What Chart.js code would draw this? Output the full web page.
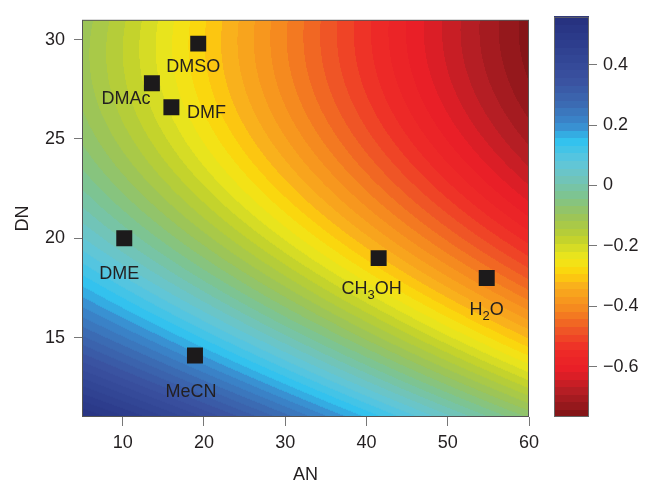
<!DOCTYPE html>
<html>
<head>
<meta charset="utf-8">
<script src="https://cdn.jsdelivr.net/npm/chart.js@4.4.1/dist/chart.umd.min.js"></script>
<style>
  html, body { margin: 0; padding: 0; background: #fff; }
  #wrap { position: relative; width: 647px; height: 482px; }
  #main { position: absolute; left: 0; top: 0; }
  #cbar { position: absolute; left: 540px; top: 0; }
</style>
</head>
<body>
<div id="wrap">
  <canvas id="main" width="647" height="482"></canvas>
  <canvas id="cbar" width="107" height="482"></canvas>
</div>
<script>
// solvents (acceptor number AN, donor number DN)
const solvents = ['DMSO', 'DMAc', 'DMF', 'DME', 'MeCN', 'CH_3OH', 'H_2O'];
const solventAN = [19.3, 13.6, 16.0, 10.2, 18.9, 41.5, 54.8];
const solventDN = [29.8, 27.8, 26.6, 20.0, 14.1, 19.0, 18.0];

const xTicks = [10, 20, 30, 40, 50, 60];
const yTicks = [15, 20, 25, 30];
const cbTicks = [-0.6, -0.4, -0.2, 0, 0.2, 0.4];

// background surface on a coarse grid
const gridAN = [5, 10, 15, 20, 25, 30, 35, 40, 45, 50, 55, 60];
const gridDN = [11, 15, 19, 23, 27, 31];
const fieldDN11 = [0.55, 0.48, 0.43, 0.38, 0.33, 0.275, 0.21, 0.155, 0.085, 0.04, -0.02, -0.07];
const fieldDN15 = [0.30, 0.24, 0.18, 0.13, 0.075, 0.025, -0.035, -0.09, -0.145, -0.20, -0.255, -0.32];
const fieldDN19 = [0.07, 0.035, -0.02, -0.08, -0.14, -0.19, -0.235, -0.29, -0.345, -0.405, -0.465, -0.53];
const fieldDN23 = [-0.01, -0.07, -0.135, -0.20, -0.255, -0.31, -0.375, -0.44, -0.50, -0.56, -0.60, -0.65];
const fieldDN27 = [-0.10, -0.15, -0.21, -0.27, -0.33, -0.40, -0.46, -0.525, -0.59, -0.63, -0.67, -0.71];
const fieldDN31 = [-0.11, -0.16, -0.23, -0.29, -0.355, -0.405, -0.465, -0.53, -0.595, -0.65, -0.70, -0.765];
const fieldRows = [fieldDN11, fieldDN15, fieldDN19, fieldDN23, fieldDN27, fieldDN31];

const cbMin = -0.767, cbMax = 0.559;
const levelStep = 0.025;

// colour map
const cmapValues = [0.56, 0.46, 0.35, 0.27, 0.20, 0.15, 0.08, 0.03, -0.04, -0.10, -0.17, -0.24, -0.29, -0.33, -0.41, -0.48, -0.54, -0.61, -0.68, -0.77];
const cmapColors = ['#26307e', '#2e3f8f', '#3a52a0', '#3b6bb3', '#3a8ccf', '#30c2ef', '#5ec6dc', '#6fc4bf', '#80c48a', '#9bc45a',
    '#bdd02f', '#efe81a', '#fdd20b', '#f9b11c', '#f5871f', '#ef5526', '#ee2c27', '#e91e27', '#b51e24', '#7b1315'];

const labelOffsets = {
    'DMSO': [-5, 23], 'DMAc': [-26, 16], 'DMF': [35, 6], 'DME': [-5, 36],
    'MeCN': [-4, 37], 'CH_3OH': [-7, 31], 'H_2O': [0, 32]
};

const FONT = "'Liberation Sans', Arial, sans-serif";
const FSIZE = 18;
const TEXT = '#231f20';

const cmapRgb = cmapColors.map(h => [parseInt(h.slice(1, 3), 16), parseInt(h.slice(3, 5), 16), parseInt(h.slice(5, 7), 16)]);

function colorAt(v) {
    const n = cmapValues.length;
    if (v >= cmapValues[0]) return cmapRgb[0];
    if (v <= cmapValues[n - 1]) return cmapRgb[n - 1];
    for (let i = 0; i < n - 1; i++) {
        if (v <= cmapValues[i] && v >= cmapValues[i + 1]) {
            const t = (cmapValues[i] - v) / (cmapValues[i] - cmapValues[i + 1]);
            const a = cmapRgb[i], b = cmapRgb[i + 1];
            return [a[0] + (b[0] - a[0]) * t, a[1] + (b[1] - a[1]) * t, a[2] + (b[2] - a[2]) * t];
        }
    }
    return cmapRgb[n - 1];
}

function bandColor(v) {
    const k = Math.floor((v - cbMin) / levelStep);
    return colorAt(cbMin + (k + 0.5) * levelStep);
}

// smooth cubic surface through the grid readings (least squares), for drawing only
function terms(an, dn) {
    const u = (an - 32.5) / 27.5, v = (dn - 21) / 10;
    return [1, u, v, u * u, u * v, v * v, u * u * u, u * u * v, u * v * v, v * v * v];
}

function fitSurface() {
    const m = 10;
    const A = Array.from({ length: m }, () => new Array(m + 1).fill(0));
    gridDN.forEach((dn, r) => {
        gridAN.forEach((an, c) => {
            const t = terms(an, dn), z = fieldRows[r][c];
            for (let i = 0; i < m; i++) {
                for (let j = 0; j < m; j++) A[i][j] += t[i] * t[j];
                A[i][m] += t[i] * z;
            }
        });
    });
    for (let i = 0; i < m; i++) {
        let p = i;
        for (let k = i + 1; k < m; k++) if (Math.abs(A[k][i]) > Math.abs(A[p][i])) p = k;
        [A[i], A[p]] = [A[p], A[i]];
        for (let k = 0; k < m; k++) {
            if (k === i) continue;
            const f = A[k][i] / A[i][i];
            for (let j = i; j <= m; j++) A[k][j] -= f * A[i][j];
        }
    }
    return A.map((row, i) => row[m] / row[i]);
}

const coef = fitSurface();
function fieldAt(an, dn) {
    const t = terms(an, dn);
    let s = 0;
    for (let i = 0; i < t.length; i++) s += coef[i] * t[i];
    return s;
}

// filled contour background, markers and their names
const fieldPlugin = {
    id: 'field',
    beforeDatasetsDraw(chart) {
        const { ctx, chartArea: a, scales: { x, y } } = chart;
        const w = Math.round(a.right - a.left), h = Math.round(a.bottom - a.top);
        const off = document.createElement('canvas');
        off.width = w; off.height = h;
        const octx = off.getContext('2d');
        const img = octx.createImageData(w, h);
        for (let j = 0; j < h; j++) {
            const dn = y.getValueForPixel(a.top + j + 0.5);
            for (let i = 0; i < w; i++) {
                const an = x.getValueForPixel(a.left + i + 0.5);
                const c = bandColor(fieldAt(an, dn));
                const p = (j * w + i) * 4;
                img.data[p] = c[0]; img.data[p + 1] = c[1]; img.data[p + 2] = c[2]; img.data[p + 3] = 255;
            }
        }
        octx.putImageData(img, 0, 0);
        ctx.drawImage(off, a.left, a.top);
    },
    afterDatasetsDraw(chart) {
        const { ctx, chartArea: a, scales: { x, y } } = chart;
        ctx.save();
        ctx.fillStyle = TEXT;
        ctx.textBaseline = 'middle';
        solvents.forEach((name, i) => {
            const px = x.getPixelForValue(solventAN[i]);
            const py = y.getPixelForValue(solventDN[i]);
            const [dx, dy] = labelOffsets[name];
            drawLabel(ctx, name, px + dx, py + dy);
        });
        ctx.strokeStyle = '#555';
        ctx.lineWidth = 1;
        ctx.strokeRect(a.left + 0.5, a.top + 0.5, a.right - a.left - 1, a.bottom - a.top - 1);
        ctx.restore();
    }
};

// text with one subscripted character after "_"
function drawLabel(ctx, text, cx, cy) {
    const parts = [];
    let k = 0;
    while (k < text.length) {
        if (text[k] === '_') { parts.push({ t: text[k + 1], sub: true }); k += 2; }
        else {
            let s = '';
            while (k < text.length && text[k] !== '_') s += text[k++];
            parts.push({ t: s, sub: false });
        }
    }
    const big = FSIZE + 'px ' + FONT, small = '13px ' + FONT;
    let total = 0;
    parts.forEach(p => { ctx.font = p.sub ? small : big; p.w = ctx.measureText(p.t).width; total += p.w; });
    let xx = cx - total / 2;
    ctx.textAlign = 'left';
    parts.forEach(p => {
        ctx.font = p.sub ? small : big;
        ctx.fillText(p.t, xx, p.sub ? cy + 6 : cy);
        xx += p.w;
    });
}

new Chart(document.getElementById('main'), {
    type: 'scatter',
    data: {
        datasets: [{
            data: solventAN.map((v, i) => ({ x: v, y: solventDN[i] })),
            pointStyle: 'rect',
            pointRadius: 11.3,
            pointHoverRadius: 11.3,
            backgroundColor: '#1c1a1b',
            borderWidth: 0
        }]
    },
    options: {
        responsive: false,
        animation: false,
        layout: { padding: { left: 0, top: 12, right: 118, bottom: 0 } },
        plugins: { legend: { display: false }, tooltip: { enabled: false } },
        scales: {
            x: {
                type: 'linear', min: 5, max: 60,
                afterBuildTicks: s => { s.ticks = xTicks.map(v => ({ value: v })); },
                afterFit: s => { s.height = 65; },
                grid: { drawOnChartArea: false, tickLength: 9, tickColor: '#777' },
                border: { display: false },
                ticks: { padding: 6, color: TEXT, font: { family: FONT, size: FSIZE }, maxRotation: 0 },
                title: { display: true, text: 'AN', color: TEXT, font: { family: FONT, size: FSIZE, lineHeight: 0.8 }, padding: 0 }
            },
            y: {
                type: 'linear', min: 11, max: 31,
                afterBuildTicks: s => { s.ticks = yTicks.map(v => ({ value: v })); },
                afterFit: s => { s.width = 82; },
                grid: { drawOnChartArea: false, tickLength: 8, tickColor: '#777' },
                border: { display: false },
                ticks: { padding: 9, color: TEXT, font: { family: FONT, size: FSIZE } },
                title: { display: true, text: 'DN', color: TEXT, font: { family: FONT, size: FSIZE, lineHeight: 0.8 }, padding: { top: 16, bottom: 0 } }
            }
        }
    },
    plugins: [fieldPlugin]
});

// colour bar
const cbarPlugin = {
    id: 'cbarFill',
    beforeDatasetsDraw(chart) {
        const { ctx, chartArea: a, scales: { y } } = chart;
        ctx.save();
        const nLevels = Math.ceil((cbMax - cbMin) / levelStep);
        for (let k = 0; k < nLevels; k++) {
            const lo = cbMin + k * levelStep, hi = Math.min(cbMax, lo + levelStep);
            const c = colorAt(lo + levelStep / 2);
            ctx.fillStyle = 'rgb(' + c.map(Math.round).join(',') + ')';
            const y0 = y.getPixelForValue(hi), y1 = y.getPixelForValue(lo);
            ctx.fillRect(a.left, Math.floor(y0), a.right - a.left, Math.ceil(y1) - Math.floor(y0));
        }
        ctx.strokeStyle = '#666';
        ctx.lineWidth = 1;
        ctx.strokeRect(a.left + 0.5, a.top + 0.5, a.right - a.left - 1, a.bottom - a.top - 1);
        ctx.restore();
    }
};

new Chart(document.getElementById('cbar'), {
    type: 'scatter',
    data: { datasets: [{ data: [] }] },
    options: {
        responsive: false,
        animation: false,
        layout: { padding: { left: 14, top: 12, right: 0, bottom: 65 } },
        plugins: { legend: { display: false }, tooltip: { enabled: false } },
        scales: {
            x: { display: false, min: 0, max: 1 },
            y: {
                position: 'right', min: cbMin, max: cbMax,
                afterBuildTicks: s => { s.ticks = cbTicks.map(v => ({ value: v })); },
                afterFit: s => { s.width = 58; },
                grid: { drawOnChartArea: false, tickLength: 8, tickColor: '#777' },
                border: { display: false },
                ticks: {
                    padding: 6, color: TEXT, font: { family: FONT, size: FSIZE },
                    callback: v => v === 0 ? '0' : (v < 0 ? '\u2212' : '') + Math.abs(v).toFixed(1)
                }
            }
        }
    },
    plugins: [cbarPlugin]
});
</script>
</body>
</html>
